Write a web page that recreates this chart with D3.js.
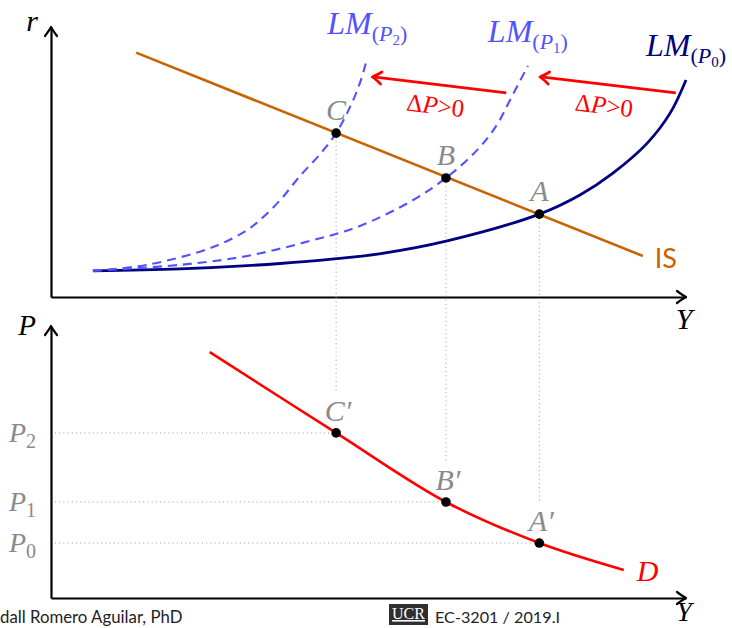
<!DOCTYPE html>
<html><head><meta charset="utf-8">
<script src="https://cdn.jsdelivr.net/npm/d3@7"></script>
<style>body{margin:0;background:#fff}svg{display:block}</style>
</head><body>
<svg id="c" width="732" height="628"></svg>
<script>
// ---------------- data ----------------
const isLine = [[1.34, 9.05], [9.32, 1.52]];
const lmP0 = [[0.66,0.97],[2.03,1.04],[3.61,1.24],[4.50,1.42],[5.17,1.60],[6.24,2.08],[7.69,3.07],[8.33,3.78],[8.85,4.59],[9.39,5.70],[9.75,6.81],[10.0,8.04]];
const lmP1 = [[0.66,0.97],[2.03,1.19],[3.09,1.52],[4.13,2.11],[4.82,2.59],[5.65,3.52],[6.22,4.41],[6.71,5.44],[7.02,6.37],[7.23,7.30],[7.51,8.56]];
const lmP2 = [[0.66,0.97],[1.51,1.19],[2.55,1.85],[3.09,2.48],[3.29,2.85],[3.61,3.59],[3.92,4.48],[4.24,5.30],[4.49,6.07],[4.71,7.04],[4.87,7.96],[4.98,8.85]];
const lmSubs = ["0", "1", "2"];
const equilibria = [
  {name: "A", Y: 7.69, r: 3.07, P: 2.02, level: "0"},
  {name: "B", Y: 6.22, r: 4.41, P: 3.53, level: "1"},
  {name: "C", Y: 4.49, r: 6.07, P: 6.07, level: "2"}
];
const demand = [[2.50,9.04],[4.49,6.07],[6.22,3.53],[7.69,2.02],[9.02,1.03]];
const shifts = [
  {from: [9.84, 7.56], to: [7.70, 8.15]},
  {from: [7.17, 7.56], to: [5.06, 8.15]}
];

// ---------------- setup ----------------
const svg = d3.select("#c");
const x = d3.scaleLinear().domain([0, 10]).range([51, 686]);
const yTop = d3.scaleLinear().domain([0, 10]).range([297, 27]);
const yBot = d3.scaleLinear().domain([0, 10]).range([598, 326]);

const SERIF = "'Liberation Serif', 'DejaVu Serif', serif";
const SANS = "Lato, 'Open Sans', sans-serif";
const GRAY = "#8a8a8a";
const BLUE = "#5252ff";
const NAVY = "#000080";
const ORANGE = "#c86400";
const RED = "#ff0000";

// ---------------- axes ----------------
function arrowHead(g, px, py, angleDeg, color, w) {
  g.append("path")
    .attr("d", "M-9,-6 Q-3,-1.5 0,0 Q-3,1.5 -9,6")
    .attr("transform", `translate(${px},${py}) rotate(${angleDeg})`)
    .attr("fill", "none").attr("stroke", color).attr("stroke-width", w)
    .attr("stroke-linecap", "round").attr("stroke-linejoin", "round");
}

const axesG = svg.append("g");
function drawAxes(yScale) {
  const gx = axesG.append("g").attr("transform", `translate(0,${yScale(0)})`)
    .call(d3.axisBottom(x).tickValues([]).tickSizeOuter(0));
  const gy = axesG.append("g").attr("transform", `translate(${x(0)},0)`)
    .call(d3.axisLeft(yScale).tickValues([]).tickSizeOuter(0));
  [gx, gy].forEach(g => g.select(".domain").attr("stroke", "#000").attr("stroke-width", 2.2));
  arrowHead(axesG, x(10), yScale(0), 0, "#000", 2.2);
  arrowHead(axesG, x(0), yScale(10), -90, "#000", 2.2);
}
drawAxes(yTop);
drawAxes(yBot);

function italic(t, px, py, size, color, anchor) {
  return svg.append("text").attr("x", px).attr("y", py)
    .attr("font-family", SERIF).attr("font-style", "italic")
    .attr("font-size", size).attr("fill", color)
    .attr("text-anchor", anchor || "middle").text(t);
}
italic("r", 32, 31, 30, "#000");
italic("Y", 684, 329, 30, "#000");
italic("P", 27, 335, 29, "#000");
italic("Y", 684, 621, 28, "#000");

// ---------------- guide lines ----------------
const guides = svg.append("g").attr("stroke", "#9a9a9a").attr("stroke-width", 1)
  .attr("stroke-dasharray", "1,3.2").attr("fill", "none");
guides.selectAll(".v").data(equilibria).join("line")
  .attr("x1", d => x(d.Y)).attr("x2", d => x(d.Y))
  .attr("y1", d => yTop(d.r)).attr("y2", d => yBot(d.P) - 40);
guides.selectAll(".h").data(equilibria).join("line")
  .attr("x1", x(0) + 4).attr("x2", d => x(d.Y))
  .attr("y1", d => yBot(d.P)).attr("y2", d => yBot(d.P));

// P tick labels
const tickLab = svg.append("g").selectAll("text").data(equilibria).join("text")
  .attr("x", 9).attr("y", d => yBot(d.P) + 9)
  .attr("font-family", SERIF).attr("fill", GRAY);
tickLab.append("tspan").attr("font-style", "italic").attr("font-size", 28).text("P");
tickLab.append("tspan").attr("font-size", 20).attr("dy", 6).text(d => d.level);

// ---------------- curves ----------------
const lineTop = d3.line().x(d => x(d[0])).y(d => yTop(d[1])).curve(d3.curveCatmullRom.alpha(0.5));
const lineBot = d3.line().x(d => x(d[0])).y(d => yBot(d[1])).curve(d3.curveCatmullRom.alpha(0.5));

svg.append("path").datum(isLine).attr("d", d3.line().x(d => x(d[0])).y(d => yTop(d[1])))
  .attr("fill", "none").attr("stroke", ORANGE).attr("stroke-width", 2.6);

const lmData = [lmP0, lmP1, lmP2];
lmData.forEach((pts, i) => {
  svg.append("path").datum(pts).attr("d", lineTop)
    .attr("fill", "none")
    .attr("stroke", i === 0 ? NAVY : BLUE)
    .attr("stroke-width", i === 0 ? 2.8 : 2.1)
    .attr("stroke-dasharray", i === 0 ? null : "9,6");
});

svg.append("path").datum(demand).attr("d", lineBot)
  .attr("fill", "none").attr("stroke", RED).attr("stroke-width", 2.6);

// LM labels
lmData.forEach((pts, i) => {
  const end = pts[pts.length - 1];
  const t = svg.append("text").attr("x", x(end[0])).attr("y", yTop(end[1]) - 24)
    .attr("text-anchor", "middle").attr("font-family", SERIF)
    .attr("fill", i === 0 ? NAVY : BLUE);
  t.append("tspan").attr("font-style", "italic").attr("font-size", 32).text("LM");
  t.append("tspan").attr("font-size", 22).attr("dy", 7).text("(");
  t.append("tspan").attr("font-style", "italic").attr("font-size", 22).text("P");
  t.append("tspan").attr("font-size", 15).attr("dy", 4).text(lmSubs[i]);
  t.append("tspan").attr("font-size", 22).attr("dy", -4).text(")");
});

// IS label
const isEnd = isLine[1];
svg.append("text").attr("x", x(isEnd[0]) + 12).attr("y", yTop(isEnd[1]) + 12)
  .attr("font-family", SANS).attr("font-size", 27).attr("fill", ORANGE).text("IS");

// D label
const dEnd = demand[demand.length - 1];
italic("D", x(dEnd[0]) + 13, yBot(dEnd[1]) + 11, 30, RED, "start");

// shift arrows
const shiftG = svg.append("g");
shifts.forEach(s => {
  const x1 = x(s.from[0]), y1 = yTop(s.from[1]), x2 = x(s.to[0]), y2 = yTop(s.to[1]);
  shiftG.append("line").attr("x1", x1).attr("y1", y1).attr("x2", x2 + 1).attr("y2", y2)
    .attr("stroke", RED).attr("stroke-width", 2.8);
  const ang = Math.atan2(y2 - y1, x2 - x1) * 180 / Math.PI;
  arrowHead(shiftG, x2, y2, ang, RED, 2.8);
  const back = Math.atan2(y1 - y2, x1 - x2) * 180 / Math.PI;
  const cx = (x1 + x2) / 2 - 4, cy = (y1 + y2) / 2 + 29;
  const t = shiftG.append("text").attr("x", cx).attr("y", cy)
    .attr("transform", `rotate(${back},${cx},${cy - 7})`)
    .attr("text-anchor", "middle").attr("font-family", SERIF)
    .attr("font-size", 25).attr("fill", RED);
  t.append("tspan").text("Δ");
  t.append("tspan").attr("font-style", "italic").text("P");
  t.append("tspan").text(">0");
});

// points
const ptsG = svg.append("g");
ptsG.selectAll(".t").data(equilibria).join("circle")
  .attr("cx", d => x(d.Y)).attr("cy", d => yTop(d.r)).attr("r", 4.8).attr("fill", "#000");
ptsG.selectAll(".b").data(equilibria).join("circle")
  .attr("cx", d => x(d.Y)).attr("cy", d => yBot(d.P)).attr("r", 4.8).attr("fill", "#000");
equilibria.forEach(d => {
  italic(d.name, x(d.Y), yTop(d.r) - 13, 30, GRAY);
  italic(d.name + "′", x(d.Y) + 2, yBot(d.P) - 12, 30, GRAY);
});

// footer
svg.append("text").attr("x", 0).attr("y", 623).attr("font-family", SANS)
  .attr("font-size", 16.8).attr("fill", "#222").text("dall Romero Aguilar, PhD");
svg.append("rect").attr("x", 389).attr("y", 604).attr("width", 39).attr("height", 21).attr("fill", "#2f2f2f");
svg.append("text").attr("x", 408.5).attr("y", 619).attr("text-anchor", "middle")
  .attr("font-family", SERIF).attr("font-size", 16).attr("fill", "#fff")
  .attr("text-decoration", "underline").text("UCR");
svg.append("text").attr("x", 435).attr("y", 623).attr("font-family", SANS)
  .attr("font-size", 16.2).attr("fill", "#222").text("EC-3201 / 2019.I");
</script>
</body></html>
